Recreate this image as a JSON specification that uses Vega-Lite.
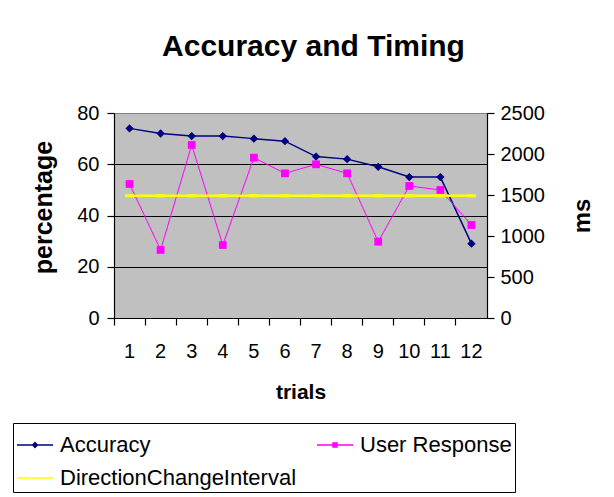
{
  "$schema": "https://vega.github.io/schema/vega-lite/v6.json",
  "width": 373,
  "height": 205,
  "autosize": {"type": "none"},
  "padding": {"left": 114, "top": 113, "right": 127, "bottom": 179},
  "background": "white",
  "title": {"text": "Accuracy and Timing", "fontSize": 30, "font": "Liberation Sans", "fontWeight": "bold", "color": "black", "anchor": "middle", "frame": "bounds", "offset": 41, "dx": 10},
  "config": {
    "view": {"fill": "#C0C0C0", "stroke": "#808080", "strokeWidth": 1},
    "font": "Liberation Sans",
    "axis": {"labelFont": "Liberation Sans", "titleFont": "Liberation Sans", "labelColor": "black", "titleColor": "black", "domainColor": "black", "tickColor": "black", "labelFontSize": 20, "titleFontSize": 21, "titleFontWeight": "bold", "tickSize": 7, "domainWidth": 1.2, "tickWidth": 1.2}
  },
  "data": {"values": [
    {"trial": 1, "series": "Accuracy", "value": 74},
    {"trial": 2, "series": "Accuracy", "value": 72},
    {"trial": 3, "series": "Accuracy", "value": 71},
    {"trial": 4, "series": "Accuracy", "value": 71},
    {"trial": 5, "series": "Accuracy", "value": 70},
    {"trial": 6, "series": "Accuracy", "value": 69},
    {"trial": 7, "series": "Accuracy", "value": 63},
    {"trial": 8, "series": "Accuracy", "value": 62},
    {"trial": 9, "series": "Accuracy", "value": 59},
    {"trial": 10, "series": "Accuracy", "value": 55},
    {"trial": 11, "series": "Accuracy", "value": 55},
    {"trial": 12, "series": "Accuracy", "value": 29},
    {"trial": 1, "series": "User Response", "value": 1634},
    {"trial": 2, "series": "User Response", "value": 830},
    {"trial": 3, "series": "User Response", "value": 2110},
    {"trial": 4, "series": "User Response", "value": 890},
    {"trial": 5, "series": "User Response", "value": 1955},
    {"trial": 6, "series": "User Response", "value": 1764},
    {"trial": 7, "series": "User Response", "value": 1874},
    {"trial": 8, "series": "User Response", "value": 1764},
    {"trial": 9, "series": "User Response", "value": 931},
    {"trial": 10, "series": "User Response", "value": 1610},
    {"trial": 11, "series": "User Response", "value": 1561},
    {"trial": 12, "series": "User Response", "value": 1134},
    {"trial": 1, "series": "DirectionChangeInterval", "value": 1490},
    {"trial": 2, "series": "DirectionChangeInterval", "value": 1490},
    {"trial": 3, "series": "DirectionChangeInterval", "value": 1490},
    {"trial": 4, "series": "DirectionChangeInterval", "value": 1490},
    {"trial": 5, "series": "DirectionChangeInterval", "value": 1490},
    {"trial": 6, "series": "DirectionChangeInterval", "value": 1490},
    {"trial": 7, "series": "DirectionChangeInterval", "value": 1490},
    {"trial": 8, "series": "DirectionChangeInterval", "value": 1490},
    {"trial": 9, "series": "DirectionChangeInterval", "value": 1490},
    {"trial": 10, "series": "DirectionChangeInterval", "value": 1490},
    {"trial": 11, "series": "DirectionChangeInterval", "value": 1490},
    {"trial": 12, "series": "DirectionChangeInterval", "value": 1490}
  ]},
  "encoding": {
    "x": {"field": "trial", "type": "ordinal", "scale": {"type": "band", "paddingInner": 0, "paddingOuter": 0},
      "axis": {"title": "trials", "labelAngle": 0, "bandPosition": 0, "labelPadding": 16, "titlePadding": 20, "grid": false}},
    "color": {"field": "series", "type": "nominal",
      "scale": {"domain": ["Accuracy", "User Response", "DirectionChangeInterval"], "range": ["#000080", "#FF00FF", "#FFFF00"]},
      "legend": {"title": null, "orient": "none", "direction": "horizontal", "legendX": -101, "legendY": 310, "columns": 2, "columnPadding": 17, "rowPadding": 3,
        "values": ["Accuracy", "User Response", "DirectionChangeInterval"],
        "strokeColor": "black", "fillColor": "white", "padding": 3, "labelFontSize": 22, "labelFont": "Liberation Sans", "labelColor": "black", "labelOffset": 6,
        "symbolSize": 1296, "symbolStrokeWidth": 1.5, "labelLimit": 400,
        "encode": {"symbols": {"update": {
          "shape": {"signal": "datum.value === 'Accuracy' ? 'M-1,0H1M-0.13,0L0,-0.13L0.13,0L0,0.13Z' : datum.value === 'User Response' ? 'M-1,0H1M-0.11,-0.11H0.11V0.11H-0.11Z' : 'M-1,0H1'"},
          "fill": {"signal": "datum.value === 'Accuracy' ? '#000080' : datum.value === 'User Response' ? '#FF00FF' : 'transparent'"},
          "stroke": {"signal": "datum.value === 'Accuracy' ? '#000080' : datum.value === 'User Response' ? '#FF00FF' : '#FFFF00'"},
          "strokeWidth": {"value": 1.5},
          "opacity": {"value": 1}
        }}}}
    }
  },
  "layer": [
    {
      "transform": [{"filter": "datum.series === 'Accuracy'"}],
      "encoding": {
        "y": {"field": "value", "type": "quantitative", "scale": {"domain": [0, 80]},
          "axis": {"title": "percentage", "titleFontSize": 25, "titleY": 94, "values": [0, 20, 40, 60, 80], "grid": true, "gridColor": {"condition": {"test": "datum.value === 80 || datum.value === 0", "value": "#808080"}, "value": "black"}, "gridWidth": 1.2, "labelPadding": 8, "titlePadding": 20}}
      },
      "layer": [
        {"mark": {"type": "line", "strokeWidth": 1.5}},
        {"mark": {"type": "point", "shape": "diamond", "filled": true, "size": 70, "opacity": 1}}
      ]
    },
    {
      "transform": [{"filter": "datum.series !== 'Accuracy'"}],
      "encoding": {
        "y": {"field": "value", "type": "quantitative", "scale": {"domain": [0, 2500]},
          "axis": {"orient": "right", "title": "ms", "titleFontSize": 24, "titleAngle": 270, "format": "d", "values": [0, 500, 1000, 1500, 2000, 2500], "grid": false, "labelPadding": 6, "titlePadding": 50}}
      },
      "layer": [
        {"transform": [{"filter": "datum.series === 'User Response'"}], "mark": {"type": "line", "strokeWidth": 1}},
        {"transform": [{"filter": "datum.series === 'User Response'"}], "mark": {"type": "point", "shape": "square", "filled": true, "size": 60, "opacity": 1}},
        {"transform": [{"filter": "datum.series === 'DirectionChangeInterval'"}], "mark": {"type": "line", "strokeWidth": 2.5}},
        {"transform": [{"filter": "datum.series === 'DirectionChangeInterval'"}], "mark": {"type": "point", "shape": "M-1,-0.35H1V0.35H-1Z", "filled": true, "size": 80, "opacity": 1}}
      ]
    }
  ],
  "resolve": {"scale": {"y": "independent"}}
}
